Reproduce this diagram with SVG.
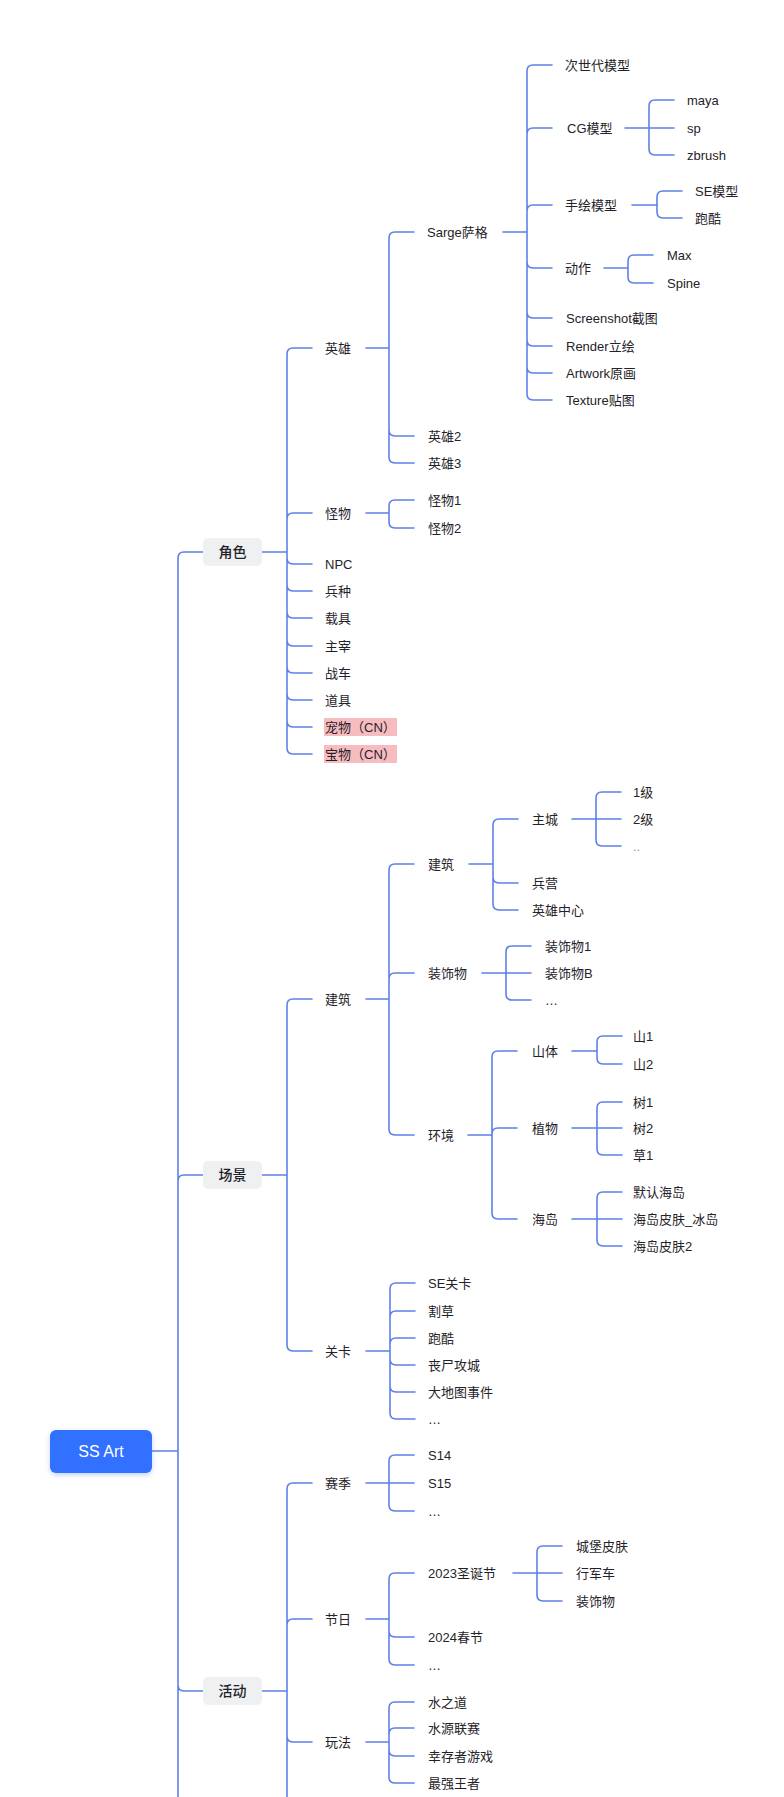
<svg xmlns="http://www.w3.org/2000/svg" width="784" height="1797" viewBox="0 0 784 1797">
<defs>
<style>
.c{fill:none;stroke:#5f80e6;stroke-width:1.6;stroke-linecap:round;stroke-linejoin:round}
.t{font-family:"Liberation Sans","Noto Sans CJK SC",sans-serif;font-size:13px;fill:#1f2329;dominant-baseline:central}
.l1{font-family:"Liberation Sans","Noto Sans CJK SC",sans-serif;font-size:14px;fill:#1f2329;dominant-baseline:central;text-anchor:middle;font-weight:500}
.b1{fill:#eff0f2}
.hl{fill:#f7bcbf}
.root{fill:#3370ff}
.rt{font-family:"Liberation Sans","Noto Sans CJK SC",sans-serif;font-size:16px;fill:#ffffff;dominant-baseline:central;text-anchor:middle}
</style>
<filter id="sh" x="-20%" y="-30%" width="140%" height="170%"><feDropShadow dx="0" dy="2" stdDeviation="2.5" flood-color="#3370ff" flood-opacity="0.3"/></filter>
</defs>
<rect width="784" height="1797" fill="#ffffff"/>
<g id="connectors" class="c">
<!-- root -->
<path d="M152 1451 H178 M178 1797 V558 Q178 552 184 552 H203 M178 1181 Q178 1175 184 1175 H203 M178 1685 Q178 1691 184 1691 H203"/>
<!-- 角色 -->
<path d="M262 552 H287 M287 354 V748 M287 354 Q287 348 293 348 H312 M287 519 Q287 513 293 513 H312 M287 558 Q287 564 293 564 H312 M287 585 Q287 591 293 591 H312 M287 612 Q287 618 293 618 H312 M287 640 Q287 646 293 646 H312 M287 667 Q287 673 293 673 H312 M287 694 Q287 700 293 700 H312 M287 721 Q287 727 293 727 H312 M287 748 Q287 754 293 754 H312"/>
<!-- 英雄 -->
<path d="M366 348 H389 M389 238 V457 M389 238 Q389 232 395 232 H414 M389 430 Q389 436 395 436 H414 M389 457 Q389 463 395 463 H414"/>
<!-- 怪物 -->
<path d="M366 513 H389 M389 506 V522 M389 506 Q389 500 395 500 H414 M389 522 Q389 528 395 528 H414"/>
<!-- Sarge -->
<path d="M503 232 H527 M527 71 V394 M527 71 Q527 65 533 65 H552 M527 134 Q527 128 533 128 H552 M527 211 Q527 205 533 205 H552 M527 262 Q527 268 533 268 H552 M527 312 Q527 318 533 318 H552 M527 340 Q527 346 533 346 H552 M527 367 Q527 373 533 373 H552 M527 394 Q527 400 533 400 H552"/>
<!-- CG模型 -->
<path d="M625 128 H674 M649 106 V149 M649 106 Q649 100 655 100 H674 M649 149 Q649 155 655 155 H674"/>
<!-- 手绘模型 -->
<path d="M632 205 H657 M657 197 V212 M657 197 Q657 191 663 191 H682 M657 212 Q657 218 663 218 H682"/>
<!-- 动作 -->
<path d="M604 268 H628 M628 261 V277 M628 261 Q628 255 634 255 H653 M628 277 Q628 283 634 283 H653"/>
<!-- 场景 -->
<path d="M262 1175 H287 M287 1005 V1345 M287 1005 Q287 999 293 999 H312 M287 1345 Q287 1351 293 1351 H312"/>
<!-- 建筑 L2 -->
<path d="M366 999 H389 M389 870 V1129 M389 870 Q389 864 395 864 H414 M389 979 Q389 973 395 973 H414 M389 1129 Q389 1135 395 1135 H414"/>
<!-- 建筑 L3 -->
<path d="M469 864 H493 M493 825 V904 M493 825 Q493 819 499 819 H518 M493 877 Q493 883 499 883 H518 M493 904 Q493 910 499 910 H518"/>
<!-- 主城 -->
<path d="M572 819 H621 M596 798 V840 M596 798 Q596 792 602 792 H621 M596 840 Q596 846 602 846 H621"/>
<!-- 装饰物 -->
<path d="M482 973 H531 M506 952 V994 M506 952 Q506 946 512 946 H531 M506 994 Q506 1000 512 1000 H531"/>
<!-- 环境 -->
<path d="M468 1135 H492 M492 1057 V1213 M492 1057 Q492 1051 498 1051 H517 M492 1134 Q492 1128 498 1128 H517 M492 1213 Q492 1219 498 1219 H517"/>
<!-- 山体 -->
<path d="M572 1051 H597 M597 1042 V1058 M597 1042 Q597 1036 603 1036 H622 M597 1058 Q597 1064 603 1064 H622"/>
<!-- 植物 -->
<path d="M572 1128 H622 M597 1108 V1149 M597 1108 Q597 1102 603 1102 H622 M597 1149 Q597 1155 603 1155 H622"/>
<!-- 海岛 -->
<path d="M572 1219 H622 M597 1198 V1240 M597 1198 Q597 1192 603 1192 H622 M597 1240 Q597 1246 603 1246 H622"/>
<!-- 关卡 -->
<path d="M366 1351 H390 M390 1289 V1413 M390 1289 Q390 1283 396 1283 H415 M390 1317 Q390 1311 396 1311 H415 M390 1344 Q390 1338 396 1338 H415 M390 1359 Q390 1365 396 1365 H415 M390 1386 Q390 1392 396 1392 H415 M390 1413 Q390 1419 396 1419 H415"/>
<!-- 活动 -->
<path d="M262 1691 H287 M287 1489 V1797 M287 1489 Q287 1483 293 1483 H312 M287 1625 Q287 1619 293 1619 H312 M287 1736 Q287 1742 293 1742 H312"/>
<!-- 赛季 -->
<path d="M366 1483 H414 M389 1461 V1505 M389 1461 Q389 1455 395 1455 H414 M389 1505 Q389 1511 395 1511 H414"/>
<!-- 节日 -->
<path d="M366 1619 H389 M389 1579 V1659 M389 1579 Q389 1573 395 1573 H414 M389 1631 Q389 1637 395 1637 H414 M389 1659 Q389 1665 395 1665 H414"/>
<!-- 2023圣诞节 -->
<path d="M513 1573 H562 M537 1552 V1595 M537 1552 Q537 1546 543 1546 H562 M537 1595 Q537 1601 543 1601 H562"/>
<!-- 玩法 -->
<path d="M366 1742 H389 M389 1708 V1777 M389 1708 Q389 1702 395 1702 H414 M389 1734 Q389 1728 395 1728 H414 M389 1750 Q389 1756 395 1756 H414 M389 1777 Q389 1783 395 1783 H414"/>
</g>
<g id="n-root"><rect class="root" x="50" y="1430" width="102" height="43" rx="6" filter="url(#sh)"/><text class="rt" x="101" y="1451.5">SS Art</text></g>
<g id="n-jiaose"><rect class="b1" x="203" y="538" width="59" height="28" rx="5"/><text class="l1" x="232.5" y="552">角色</text></g>
<g id="n-changjing"><rect class="b1" x="203" y="1161" width="59" height="28" rx="5"/><text class="l1" x="232.5" y="1175">场景</text></g>
<g id="n-huodong"><rect class="b1" x="203" y="1677" width="59" height="28" rx="5"/><text class="l1" x="232.5" y="1691">活动</text></g>
<g id="n-yingxiong"><text class="t" x="325" y="348">英雄</text></g>
<g id="n-guaiwu"><text class="t" x="325" y="513">怪物</text></g>
<g id="n-npc"><text class="t" x="325" y="564">NPC</text></g>
<g id="n-bingzhong"><text class="t" x="325" y="591">兵种</text></g>
<g id="n-zaiju"><text class="t" x="325" y="618">载具</text></g>
<g id="n-zhuzai"><text class="t" x="325" y="646">主宰</text></g>
<g id="n-zhanche"><text class="t" x="325" y="673">战车</text></g>
<g id="n-daoju"><text class="t" x="325" y="700">道具</text></g>
<g id="n-chongwu"><rect class="hl" x="324" y="718" width="73" height="18"/><text class="t" x="325" y="727">宠物（CN）</text></g>
<g id="n-baowu"><rect class="hl" x="324" y="745" width="73" height="18"/><text class="t" x="325" y="754">宝物（CN）</text></g>
<g id="n-sarge"><text class="t" x="427" y="232">Sarge萨格</text></g>
<g id="n-yingxiong2"><text class="t" x="428" y="436">英雄2</text></g>
<g id="n-yingxiong3"><text class="t" x="428" y="463">英雄3</text></g>
<g id="n-guaiwu1"><text class="t" x="428" y="500">怪物1</text></g>
<g id="n-guaiwu2"><text class="t" x="428" y="528">怪物2</text></g>
<g id="n-cishidai"><text class="t" x="565" y="65">次世代模型</text></g>
<g id="n-cg"><text class="t" x="567" y="128">CG模型</text></g>
<g id="n-shouhui"><text class="t" x="565" y="205">手绘模型</text></g>
<g id="n-dongzuo"><text class="t" x="565" y="268">动作</text></g>
<g id="n-screenshot"><text class="t" x="566" y="318">Screenshot截图</text></g>
<g id="n-render"><text class="t" x="566" y="346">Render立绘</text></g>
<g id="n-artwork"><text class="t" x="566" y="373">Artwork原画</text></g>
<g id="n-texture"><text class="t" x="566" y="400">Texture贴图</text></g>
<g id="n-maya"><text class="t" x="687" y="100">maya</text></g>
<g id="n-sp"><text class="t" x="687" y="128">sp</text></g>
<g id="n-zbrush"><text class="t" x="687" y="155">zbrush</text></g>
<g id="n-semx"><text class="t" x="695" y="191">SE模型</text></g>
<g id="n-paoku1"><text class="t" x="695" y="218">跑酷</text></g>
<g id="n-max"><text class="t" x="667" y="255">Max</text></g>
<g id="n-spine"><text class="t" x="667" y="283">Spine</text></g>
<g id="n-jianzhu"><text class="t" x="325" y="999">建筑</text></g>
<g id="n-guanka"><text class="t" x="325" y="1351">关卡</text></g>
<g id="n-jianzhu2"><text class="t" x="428" y="864">建筑</text></g>
<g id="n-zhuangshi"><text class="t" x="428" y="973">装饰物</text></g>
<g id="n-huanjing"><text class="t" x="428" y="1135">环境</text></g>
<g id="n-zhucheng"><text class="t" x="532" y="819">主城</text></g>
<g id="n-bingying"><text class="t" x="532" y="883">兵营</text></g>
<g id="n-yxzx"><text class="t" x="532" y="910">英雄中心</text></g>
<g id="n-1ji"><text class="t" x="633" y="792">1级</text></g>
<g id="n-2ji"><text class="t" x="633" y="819">2级</text></g>
<g id="n-zcmore"><text class="t" x="633" y="846" fill="#8f959e" style="fill:#8f959e">..</text></g>
<g id="n-zs1"><text class="t" x="545" y="946">装饰物1</text></g>
<g id="n-zsb"><text class="t" x="545" y="973">装饰物B</text></g>
<g id="n-zsmore"><text class="t" x="545" y="1000">…</text></g>
<g id="n-shanti"><text class="t" x="532" y="1051">山体</text></g>
<g id="n-zhiwu"><text class="t" x="532" y="1128">植物</text></g>
<g id="n-haidao"><text class="t" x="532" y="1219">海岛</text></g>
<g id="n-shan1"><text class="t" x="633" y="1036">山1</text></g>
<g id="n-shan2"><text class="t" x="633" y="1064">山2</text></g>
<g id="n-shu1"><text class="t" x="633" y="1102">树1</text></g>
<g id="n-shu2"><text class="t" x="633" y="1128">树2</text></g>
<g id="n-cao1"><text class="t" x="633" y="1155">草1</text></g>
<g id="n-mrhd"><text class="t" x="633" y="1192">默认海岛</text></g>
<g id="n-hdbd"><text class="t" x="633" y="1219">海岛皮肤_冰岛</text></g>
<g id="n-hd2"><text class="t" x="633" y="1246">海岛皮肤2</text></g>
<g id="n-segk"><text class="t" x="428" y="1283">SE关卡</text></g>
<g id="n-gecao"><text class="t" x="428" y="1311">割草</text></g>
<g id="n-paoku2"><text class="t" x="428" y="1338">跑酷</text></g>
<g id="n-sanshi"><text class="t" x="428" y="1365">丧尸攻城</text></g>
<g id="n-dditu"><text class="t" x="428" y="1392">大地图事件</text></g>
<g id="n-gkmore"><text class="t" x="428" y="1419">…</text></g>
<g id="n-saiji"><text class="t" x="325" y="1483">赛季</text></g>
<g id="n-jieri"><text class="t" x="325" y="1619">节日</text></g>
<g id="n-wanfa"><text class="t" x="325" y="1742">玩法</text></g>
<g id="n-s14"><text class="t" x="428" y="1455">S14</text></g>
<g id="n-s15"><text class="t" x="428" y="1483">S15</text></g>
<g id="n-sjmore"><text class="t" x="428" y="1511">…</text></g>
<g id="n-sdj"><text class="t" x="428" y="1573">2023圣诞节</text></g>
<g id="n-cj"><text class="t" x="428" y="1637">2024春节</text></g>
<g id="n-jrmore"><text class="t" x="428" y="1665">…</text></g>
<g id="n-cbpf"><text class="t" x="576" y="1546">城堡皮肤</text></g>
<g id="n-xjc"><text class="t" x="576" y="1573">行军车</text></g>
<g id="n-zsw"><text class="t" x="576" y="1601">装饰物</text></g>
<g id="n-szd"><text class="t" x="428" y="1702">水之道</text></g>
<g id="n-syls"><text class="t" x="428" y="1728">水源联赛</text></g>
<g id="n-xcz"><text class="t" x="428" y="1756">幸存者游戏</text></g>
<g id="n-zqwz"><text class="t" x="428" y="1783">最强王者</text></g>
</svg>
